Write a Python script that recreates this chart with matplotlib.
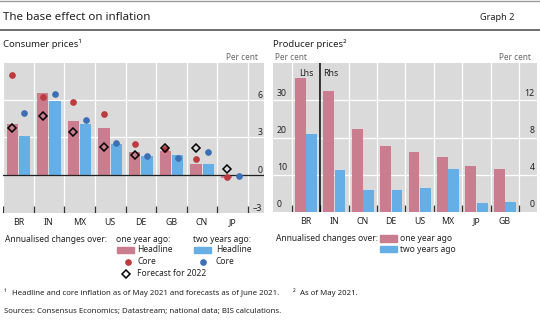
import numpy as np
import matplotlib
matplotlib.use("Agg")
import matplotlib.pyplot as plt
from matplotlib.patches import Rectangle
from matplotlib.transforms import blended_transform_factory

plt.rcParams['font.family'] = ['Noto Sans', 'DejaVu Sans']

# consumer prices, per cent
cpi_countries = ['BR', 'IN', 'MX', 'US', 'DE', 'GB', 'CN', 'JP']
headline_1y = [4.06, 6.5, 4.3, 3.74, 1.83, 1.91, 0.85, -0.25]
headline_2y = [3.1, 5.89, 4.03, 2.47, 1.54, 1.56, 0.9, -0.1]
core_1y = [7.96, 6.23, 5.84, 4.9, 2.49, 2.04, 1.25, -0.19]
core_2y = [4.96, 6.42, 4.38, 2.52, 1.51, 1.33, 1.8, -0.08]
forecast_2022 = [3.77, 4.72, 3.4, 2.25, 1.56, 2.15, 2.17, 0.45]
cpi_ticks = [6, 3, 0, -3]

# producer prices, per cent (BR on lhs, others on rhs)
ppi_countries = ['BR', 'IN', 'CN', 'DE', 'US', 'MX', 'JP', 'GB']
ppi_1y = [36.0, 12.97, 8.9, 7.1, 6.45, 5.95, 4.9, 4.6]
ppi_2y = [20.9, 4.5, 2.34, 2.3, 2.6, 4.6, 0.97, 1.05]
lhs_ticks = [30, 20, 10, 0]
rhs_ticks = [12, 8, 4, 0]

PINK = '#c97d8e'
BLUE = '#66afe6'
RED = '#be3a3e'
DBLUE = '#3d6fb4'
BG = '#dadada'
TXT = '#222222'

TICK_FS = 6.3
LEG_FS = 6.1
NOTE_FS = 5.65

W, H = 540, 323
fig = plt.figure(figsize=(W / 100, H / 100), dpi=100)


def box(x0, y0, x1, y1):
    return [x0 / W, 1 - y1 / H, (x1 - x0) / W, (y1 - y0) / H]


def style(ax):
    ax.set_facecolor(BG)
    for s in ax.spines.values():
        s.set_visible(False)
    ax.set_yticks([])
    ax.tick_params(axis='x', length=0, pad=4, labelsize=TICK_FS, labelcolor=TXT)


# ---- consumer prices
ax1 = fig.add_axes(box(3, 63.3, 264, 212.7))
style(ax1)
n = len(cpi_countries)
x = np.arange(n)
ax1.set_xlim(-0.5, 8.02)
ax1.set_ylim(-3, 8.9)
for v in [3, 6]:
    ax1.axhline(v, color='white', lw=0.9, zorder=0)
for b in np.arange(n + 1) - 0.5:
    ax1.axvline(b, color='white', lw=0.9, zorder=0)
trans1 = blended_transform_factory(ax1.transData, ax1.transAxes)
ax1.vlines(np.arange(n + 1) - 0.5, 0, 0.045, color='#333333', lw=0.9, transform=trans1)
ax1.bar(x - 0.2, headline_1y, width=0.37, color=PINK, zorder=2)
ax1.bar(x + 0.2, headline_2y, width=0.37, color=BLUE, zorder=2)
ax1.axhline(0, color='#222222', lw=0.9, zorder=3)
ax1.plot(x - 0.2, core_1y, 'o', color=RED, ms=3.8, zorder=4)
ax1.plot(x + 0.2, core_2y, 'o', color=DBLUE, ms=3.8, zorder=4)
ax1.plot(x - 0.2, forecast_2022, 'D', mfc='none', mec='black', mew=1.1, ms=4.2, zorder=5)
ax1.set_xticks(x, cpi_countries)
for t in cpi_ticks:
    lab = str(t) if t >= 0 else '\u2013' + str(-t)
    ax1.text(7.96, t, lab, ha='right', va='bottom', fontsize=TICK_FS, color=TXT)

# ---- producer prices
ax2 = fig.add_axes(box(273, 63.3, 537, 211.7))
style(ax2)
m = len(ppi_countries)
x2 = np.arange(m)
ax2.set_xlim(-1.16, 8.13)
ax2.set_ylim(0, 40)
ax3 = ax2.twinx()
ax3.set_ylim(0, 16)
ax3.set_yticks([])
for s in ax3.spines.values():
    s.set_visible(False)
for v in [10, 20, 30]:
    ax2.axhline(v, color='white', lw=0.9, zorder=0)
for b in np.arange(m + 1) - 0.5:
    ax2.axvline(b, color='white', lw=0.9, zorder=0)
trans2 = blended_transform_factory(ax2.transData, ax2.transAxes)
ax2.vlines(np.arange(m + 1) - 0.5, 0, 0.045, color='#333333', lw=0.9, transform=trans2)
ax2.axvline(0.5, color='black', lw=1.1, zorder=3)
ax2.bar(x2[:1] - 0.2, ppi_1y[:1], width=0.38, color=PINK, zorder=2)
ax2.bar(x2[:1] + 0.2, ppi_2y[:1], width=0.38, color=BLUE, zorder=2)
ax3.bar(x2[1:] - 0.2, ppi_1y[1:], width=0.38, color=PINK, zorder=2)
ax3.bar(x2[1:] + 0.2, ppi_2y[1:], width=0.38, color=BLUE, zorder=2)
ax2.set_xticks(x2, ppi_countries)
for t in lhs_ticks:
    ax2.text(-1.02, t + 0.6, str(t), ha='left', va='bottom', fontsize=TICK_FS, color=TXT)
for t in rhs_ticks:
    ax3.text(8.04, t + 0.24, str(t), ha='right', va='bottom', fontsize=TICK_FS, color=TXT)
ax2.text(0.0, 37.3, 'Lhs', ha='center', va='center', fontsize=TICK_FS, color=TXT, zorder=6)
ax2.text(0.62, 37.3, 'Rhs', ha='left', va='center', fontsize=TICK_FS, color=TXT, zorder=6)

# ---- headings, legends and notes in pixel coordinates
lay = fig.add_axes([0, 0, 1, 1], zorder=-1)
lay.set_xlim(0, W)
lay.set_ylim(H, 0)
lay.axis('off')
lay.plot([0, W], [0.8, 0.8], color='#9a9a9a', lw=1)
lay.plot([0, W], [30, 30], color='#555555', lw=1.2)
lay.text(3, 17, 'The base effect on inflation', fontsize=8.3, va='center', color=TXT)
lay.text(515, 17, 'Graph 2', fontsize=6.6, va='center', ha='right', color=TXT)

lay.text(3, 44, 'Consumer prices\u00b9', fontsize=6.9, va='center', color=TXT)
lay.text(258, 57, 'Per cent', fontsize=5.9, va='center', ha='right', color='#666666')
lay.text(273, 44, 'Producer prices\u00b2', fontsize=6.9, va='center', color=TXT)
lay.text(275, 57, 'Per cent', fontsize=5.9, va='center', color='#666666')
lay.text(531, 57, 'Per cent', fontsize=5.9, va='center', ha='right', color='#666666')

fs = LEG_FS
lay.text(5, 240, 'Annualised changes over:', fontsize=fs, va='center', color=TXT)
lay.text(116, 240, 'one year ago:', fontsize=fs, va='center', color=TXT)
lay.text(193, 240, 'two years ago:', fontsize=fs, va='center', color=TXT)
lay.add_patch(Rectangle((117, 246.7), 17, 6.6, color=PINK))
lay.text(137, 250, 'Headline', fontsize=fs, va='center', color=TXT)
lay.plot([128], [261.7], 'o', color=RED, ms=3.8)
lay.text(137, 261.7, 'Core', fontsize=fs, va='center', color=TXT)
lay.plot([126], [274], 'D', mfc='none', mec='black', mew=1.1, ms=4.2)
lay.text(137, 274, 'Forecast for 2022', fontsize=fs, va='center', color=TXT)
lay.add_patch(Rectangle((194, 246.7), 17, 6.6, color=BLUE))
lay.text(216, 250, 'Headline', fontsize=fs, va='center', color=TXT)
lay.plot([203], [261.7], 'o', color=DBLUE, ms=3.8)
lay.text(216, 261.7, 'Core', fontsize=fs, va='center', color=TXT)

lay.text(276, 238.3, 'Annualised changes over:', fontsize=fs, va='center', color=TXT)
lay.add_patch(Rectangle((380, 235), 17, 6.6, color=PINK))
lay.text(400, 238.3, 'one year ago', fontsize=fs, va='center', color=TXT)
lay.add_patch(Rectangle((380, 245.7), 17, 6.6, color=BLUE))
lay.text(400, 249, 'two years ago', fontsize=fs, va='center', color=TXT)

lay.text(4, 293.3, '\u00b9', fontsize=NOTE_FS, va='center', color=TXT)
lay.text(12, 293.3, 'Headline and core inflation as of May 2021 and forecasts as of June 2021.',
         fontsize=NOTE_FS, va='center', color=TXT)
lay.text(293, 293.3, '\u00b2', fontsize=NOTE_FS, va='center', color=TXT)
lay.text(300, 293.3, 'As of May 2021.', fontsize=NOTE_FS, va='center', color=TXT)
lay.text(4, 311, 'Sources: Consensus Economics; Datastream; national data; BIS calculations.',
         fontsize=NOTE_FS, va='center', color=TXT)

fig.savefig('out.png', dpi=100)
